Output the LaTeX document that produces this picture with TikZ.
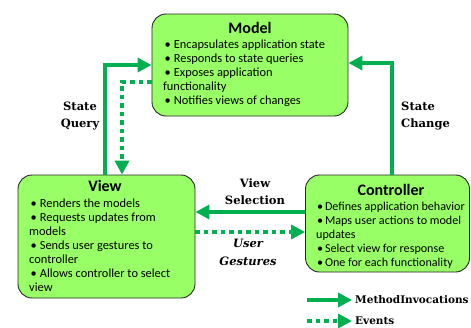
\documentclass[tikz,border=0pt]{standalone}
\usepackage{fontspec}
\setmainfont{Carlito}
\newfontfamily\edgefont{DejaVu Serif}
\usetikzlibrary{arrows.meta}
\definecolor{boxgreen}{RGB}{153,255,102}
\definecolor{arrowgreen}{RGB}{0,176,80}
% bullet at the start of a list line
\newcommand\bul{\hspace*{1.5pt}\textbullet\hspace{3pt}}
% tighter bullet for the controller list
\newcommand\tbul{\hspace*{0.8pt}\textbullet\hspace{2pt}}
% multi-line text whose baseline is that of its first line
\newcommand\itemlines[1]{\begin{tabular}[t]{@{}l@{}}#1\end{tabular}}

\begin{document}
\begin{tikzpicture}[x=1pt,y=-1pt,
  comp/.style={draw=black!85, line width=0.9pt, fill=boxgreen,
    rounded corners=14pt, inner sep=0pt},
  boxtitle/.style={font=\fontsize{16}{19}\selectfont\bfseries,
    inner sep=0pt, anchor=base},
  blist/.style={font=\fontsize{12.4}{14}\selectfont, inner sep=0pt,
    anchor=base west},
  elabel/.style={font=\edgefont\fontsize{11.5}{17.5}\selectfont\bfseries,
    inner sep=0pt, align=center},
  legendtext/.style={font=\edgefont\fontsize{10.5}{12}\selectfont\bfseries,
    inner sep=0pt, anchor=west},
  flow/.style={draw=arrowgreen, line width=4.5pt,
    -{Triangle[length=14pt,width=14pt]}},
  events/.style={flow, dash pattern=on 4.5pt off 4pt}
]
\useasboundingbox (0,0) rectangle (471,327);

% components
\node[comp, minimum width=196pt, minimum height=102pt] (model) at (250,65) {};
\node[comp, minimum width=177pt, minimum height=123pt] (view) at (106.5,236.5) {};
\node[comp, minimum width=164pt, minimum height=97pt] (ctrl) at (387.5,223.5) {};

% model text
\node[boxtitle] (modeltitle) at (250,33) {Model};
\node[blist] (modellist) at (163,48) {\fontsize{12.4}{14.2}\selectfont\itemlines{%
  \bul Encapsulates application state\\
  \bul Responds to state queries\\
  \bul Exposes application\\
  functionality\\
  \bul Notifies views of changes}};

% view text
\node[boxtitle] (viewtitle) at (105,191) {View};
\node[blist] (viewlist) at (29,207) {\itemlines{%
  \bul Renders the models\\
  \bul Requests updates from\\
  models\\
  \bul Sends user gestures to\\
  controller\\
  \bul Allows controller to select\\
  view}};

% controller text
\node[boxtitle] (ctrltitle) at (391,195) {Controller};
\node[blist] (ctrllist) at (316,210) {\fontsize{12.1}{14}\selectfont\itemlines{%
  \tbul Defines application behavior\\
  \tbul Maps user actions to model\\
  updates\\
  \tbul Select view for response\\
  \tbul One for each functionality}};

% connectors
\coordinate (qup) at (105,65);
\draw[flow] (view.north -| qup) |- (model.west |- qup);
\coordinate (qdn) at (122,82);
\draw[events] (model.west |- qdn) -| (view.north -| qdn);
\coordinate (chg) at (392,63);
\draw[flow] (ctrl.north -| chg) |- (model.east |- chg);
\coordinate (sel) at (0,212);
\draw[flow] (ctrl.west |- sel) -- (view.east |- sel);
\coordinate (ges) at (0,232);
\draw[events] (view.east |- ges) -- (ctrl.west |- ges);

% connector labels
\node[elabel] (querylabel) at (80,116) {State\\Query};
\node[elabel, anchor=west, align=left] (changelabel) at (401,116) {State\\Change};
\node[elabel] (sellabel) at (255,191.5) {View\\Selection};
\node[elabel, font=\edgefont\fontsize{11.5}{17.5}\selectfont\bfseries\itshape]
  (gestlabel) at (248,252.5) {User\\Gestures};

% legend
\coordinate (lgA) at (307,300);
\coordinate (lgB) at (352,300);
\draw[flow] (lgA) -- (lgB);
\node[legendtext] (lgmethod) at (355,300) {MethodInvocations};
\coordinate (lgC) at (307,321);
\coordinate (lgD) at (352,321);
\draw[events] (lgC) -- (lgD);
\node[legendtext] (lgevents) at (355,321) {Events};
\end{tikzpicture}
\end{document}
